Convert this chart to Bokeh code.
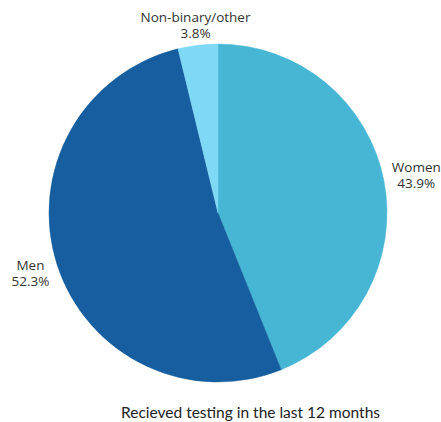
import math
from bokeh.plotting import figure
from bokeh.models import ColumnDataSource, Range1d
from bokeh.core.properties import value
from bokeh.embed import file_html
from bokeh.resources import INLINE

# Share of people who received testing in the last 12 months, by gender
categories = ["Women", "Men", "Non-binary/other"]
shares = [43.9, 52.3, 3.8]
colors = ["#47b6d5", "#165e9f", "#80d8f7"]
title_text = "Recieved testing in the last 12 months"

W, H = 441, 422
cx, cy, radius = 217.5, H - 212.5, 169

# Slices run clockwise from twelve o'clock
starts, ends, mids = [], [], []
a = math.pi / 2
for s in shares:
    sweep = s / 100 * 2 * math.pi
    starts.append(a)
    ends.append(a - sweep)
    mids.append(a - sweep / 2)
    a -= sweep

src = ColumnDataSource(dict(cat=categories, share=shares, color=colors,
                            start=starts, end=ends))

p = figure(width=W, height=H, output_backend="svg", toolbar_location=None,
           x_range=Range1d(0, W), y_range=Range1d(0, H), min_border=0)
p.axis.visible = False
p.grid.visible = False
p.outline_line_color = None
p.background_fill_color = "white"
p.border_fill_color = "white"

p.wedge(x=cx, y=cy, radius=radius, start_angle="start", end_angle="end",
        direction="clock", fill_color="color", line_color="color",
        line_width=0.5, source=src)

# Labels sit just outside the rim, along each slice's middle angle
label_dist = [202, 197, 189]
lx = [cx + d * math.cos(m) for d, m in zip(label_dist, mids)]
ly = [cy + d * math.sin(m) for d, m in zip(label_dist, mids)]
lab = ColumnDataSource(dict(
    x=lx, y=ly,
    name=categories,
    pct=[f"{s:.1f}%" for s in shares],
))
common = dict(text_align="center", text_baseline="middle",
              text_font=value("Open Sans"), text_font_size="13.5px",
              text_color="#333333", source=lab)
p.text(x="x", y="y", text="name", y_offset=-8, **common)
p.text(x="x", y="y", text="pct", y_offset=8, **common)

p.text(x=[250], y=[H - 411], text=[title_text], text_align="center",
       text_baseline="middle", text_font=value("Lato"),
       text_font_size="15.5px", text_color="#222222")

open("out.html", "w").write(file_html(p, INLINE))
